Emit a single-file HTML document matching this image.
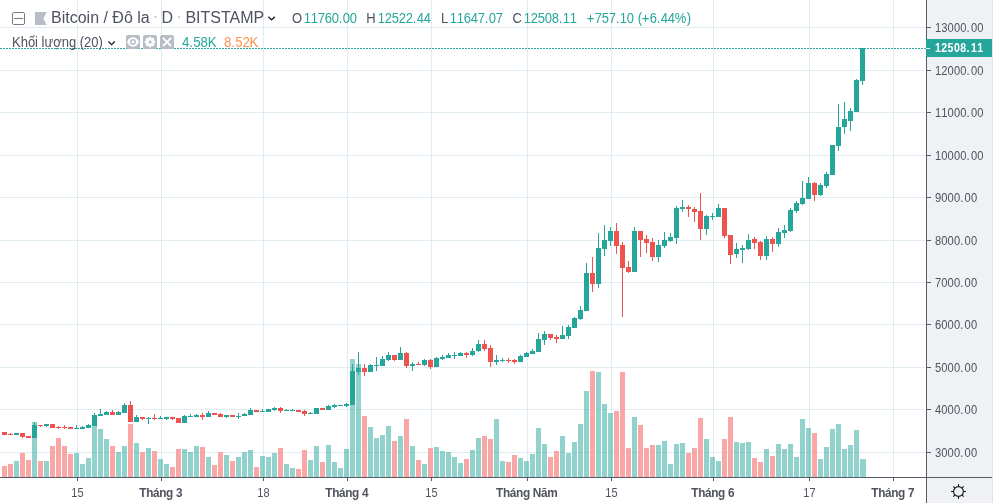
<!DOCTYPE html>
<html lang="vi"><head><meta charset="utf-8"><title>Bitcoin / Đô la · D · BITSTAMP</title>
<style>
html,body{margin:0;padding:0;background:#fff;}
body{width:993px;height:503px;overflow:hidden;position:relative;font-family:"Liberation Sans",Arial,sans-serif;}
svg{position:absolute;left:0;top:0;display:block;}
text{font-family:"Liberation Sans",Arial,sans-serif;}
</style></head><body>
<svg width="993" height="503" viewBox="0 0 993 503">
<rect x="0" y="0" width="993" height="503" fill="#fff"/>
<g shape-rendering="crispEdges" fill="#e1ecf2">
<rect x="0" y="27" width="925" height="1"/>
<rect x="0" y="70" width="925" height="1"/>
<rect x="0" y="112" width="925" height="1"/>
<rect x="0" y="155" width="925" height="1"/>
<rect x="0" y="197" width="925" height="1"/>
<rect x="0" y="240" width="925" height="1"/>
<rect x="0" y="282" width="925" height="1"/>
<rect x="0" y="324" width="925" height="1"/>
<rect x="0" y="367" width="925" height="1"/>
<rect x="0" y="409" width="925" height="1"/>
<rect x="0" y="452" width="925" height="1"/>
<rect x="77" y="0" width="1" height="477"/>
<rect x="161" y="0" width="1" height="477"/>
<rect x="263" y="0" width="1" height="477"/>
<rect x="347" y="0" width="1" height="477"/>
<rect x="431" y="0" width="1" height="477"/>
<rect x="527" y="0" width="1" height="477"/>
<rect x="611" y="0" width="1" height="477"/>
<rect x="713" y="0" width="1" height="477"/>
<rect x="809" y="0" width="1" height="477"/>
<rect x="893" y="0" width="1" height="477"/>
</g>
<g shape-rendering="crispEdges">
<rect x="2" y="466" width="5" height="11" fill="#f8a7a6"/>
<rect x="8" y="464" width="5" height="13" fill="#f8a7a6"/>
<rect x="14" y="461" width="5" height="16" fill="#26a69a" fill-opacity="0.5"/>
<rect x="20" y="453" width="5" height="24" fill="#f8a7a6"/>
<rect x="26" y="460" width="5" height="17" fill="#f8a7a6"/>
<rect x="32" y="422" width="5" height="55" fill="#26a69a" fill-opacity="0.5"/>
<rect x="38" y="461" width="5" height="16" fill="#f8a7a6"/>
<rect x="44" y="461" width="5" height="16" fill="#26a69a" fill-opacity="0.5"/>
<rect x="50" y="446" width="5" height="31" fill="#f8a7a6"/>
<rect x="56" y="438" width="5" height="39" fill="#f8a7a6"/>
<rect x="62" y="446" width="5" height="31" fill="#f8a7a6"/>
<rect x="68" y="454" width="5" height="23" fill="#f8a7a6"/>
<rect x="74" y="453" width="5" height="24" fill="#26a69a" fill-opacity="0.5"/>
<rect x="80" y="464" width="5" height="13" fill="#26a69a" fill-opacity="0.5"/>
<rect x="86" y="458" width="5" height="19" fill="#26a69a" fill-opacity="0.5"/>
<rect x="92" y="420" width="5" height="57" fill="#26a69a" fill-opacity="0.5"/>
<rect x="98" y="429" width="5" height="48" fill="#26a69a" fill-opacity="0.5"/>
<rect x="104" y="439" width="5" height="38" fill="#26a69a" fill-opacity="0.5"/>
<rect x="110" y="446" width="5" height="31" fill="#f8a7a6"/>
<rect x="116" y="452" width="5" height="25" fill="#26a69a" fill-opacity="0.5"/>
<rect x="122" y="446" width="5" height="31" fill="#26a69a" fill-opacity="0.5"/>
<rect x="128" y="424" width="5" height="53" fill="#f8a7a6"/>
<rect x="134" y="443" width="5" height="34" fill="#26a69a" fill-opacity="0.5"/>
<rect x="140" y="452" width="5" height="25" fill="#f8a7a6"/>
<rect x="146" y="448" width="5" height="29" fill="#26a69a" fill-opacity="0.5"/>
<rect x="152" y="451" width="5" height="26" fill="#f8a7a6"/>
<rect x="158" y="459" width="5" height="18" fill="#26a69a" fill-opacity="0.5"/>
<rect x="164" y="464" width="5" height="13" fill="#26a69a" fill-opacity="0.5"/>
<rect x="170" y="467" width="5" height="10" fill="#f8a7a6"/>
<rect x="176" y="449" width="5" height="28" fill="#f8a7a6"/>
<rect x="182" y="449" width="5" height="28" fill="#26a69a" fill-opacity="0.5"/>
<rect x="188" y="452" width="5" height="25" fill="#26a69a" fill-opacity="0.5"/>
<rect x="194" y="446" width="5" height="31" fill="#26a69a" fill-opacity="0.5"/>
<rect x="200" y="447" width="5" height="30" fill="#f8a7a6"/>
<rect x="206" y="457" width="5" height="20" fill="#26a69a" fill-opacity="0.5"/>
<rect x="212" y="465" width="5" height="12" fill="#f8a7a6"/>
<rect x="218" y="452" width="5" height="25" fill="#f8a7a6"/>
<rect x="224" y="455" width="5" height="22" fill="#26a69a" fill-opacity="0.5"/>
<rect x="230" y="461" width="5" height="16" fill="#f8a7a6"/>
<rect x="236" y="457" width="5" height="20" fill="#26a69a" fill-opacity="0.5"/>
<rect x="242" y="452" width="5" height="25" fill="#26a69a" fill-opacity="0.5"/>
<rect x="248" y="450" width="5" height="27" fill="#26a69a" fill-opacity="0.5"/>
<rect x="254" y="467" width="5" height="10" fill="#f8a7a6"/>
<rect x="260" y="456" width="5" height="21" fill="#26a69a" fill-opacity="0.5"/>
<rect x="266" y="457" width="5" height="20" fill="#26a69a" fill-opacity="0.5"/>
<rect x="272" y="453" width="5" height="24" fill="#26a69a" fill-opacity="0.5"/>
<rect x="278" y="448" width="5" height="29" fill="#f8a7a6"/>
<rect x="284" y="464" width="5" height="13" fill="#26a69a" fill-opacity="0.5"/>
<rect x="290" y="468" width="5" height="9" fill="#26a69a" fill-opacity="0.5"/>
<rect x="296" y="469" width="5" height="8" fill="#f8a7a6"/>
<rect x="302" y="450" width="5" height="27" fill="#f8a7a6"/>
<rect x="308" y="460" width="5" height="17" fill="#26a69a" fill-opacity="0.5"/>
<rect x="314" y="446" width="5" height="31" fill="#26a69a" fill-opacity="0.5"/>
<rect x="320" y="462" width="5" height="15" fill="#f8a7a6"/>
<rect x="326" y="445" width="5" height="32" fill="#26a69a" fill-opacity="0.5"/>
<rect x="332" y="462" width="5" height="15" fill="#26a69a" fill-opacity="0.5"/>
<rect x="338" y="468" width="5" height="9" fill="#26a69a" fill-opacity="0.5"/>
<rect x="344" y="449" width="5" height="28" fill="#26a69a" fill-opacity="0.5"/>
<rect x="350" y="359" width="5" height="118" fill="#26a69a" fill-opacity="0.5"/>
<rect x="356" y="364" width="5" height="113" fill="#26a69a" fill-opacity="0.5"/>
<rect x="362" y="416" width="5" height="61" fill="#f8a7a6"/>
<rect x="368" y="427" width="5" height="50" fill="#26a69a" fill-opacity="0.5"/>
<rect x="374" y="438" width="5" height="39" fill="#26a69a" fill-opacity="0.5"/>
<rect x="380" y="435" width="5" height="42" fill="#26a69a" fill-opacity="0.5"/>
<rect x="386" y="426" width="5" height="51" fill="#26a69a" fill-opacity="0.5"/>
<rect x="392" y="441" width="5" height="36" fill="#f8a7a6"/>
<rect x="398" y="436" width="5" height="41" fill="#26a69a" fill-opacity="0.5"/>
<rect x="404" y="419" width="5" height="58" fill="#f8a7a6"/>
<rect x="410" y="446" width="5" height="31" fill="#26a69a" fill-opacity="0.5"/>
<rect x="416" y="460" width="5" height="17" fill="#f8a7a6"/>
<rect x="422" y="464" width="5" height="13" fill="#26a69a" fill-opacity="0.5"/>
<rect x="428" y="448" width="5" height="29" fill="#f8a7a6"/>
<rect x="434" y="447" width="5" height="30" fill="#26a69a" fill-opacity="0.5"/>
<rect x="440" y="451" width="5" height="26" fill="#26a69a" fill-opacity="0.5"/>
<rect x="446" y="452" width="5" height="25" fill="#26a69a" fill-opacity="0.5"/>
<rect x="452" y="457" width="5" height="20" fill="#26a69a" fill-opacity="0.5"/>
<rect x="458" y="463" width="5" height="14" fill="#26a69a" fill-opacity="0.5"/>
<rect x="464" y="459" width="5" height="18" fill="#f8a7a6"/>
<rect x="470" y="450" width="5" height="27" fill="#26a69a" fill-opacity="0.5"/>
<rect x="476" y="438" width="5" height="39" fill="#26a69a" fill-opacity="0.5"/>
<rect x="482" y="436" width="5" height="41" fill="#f8a7a6"/>
<rect x="488" y="439" width="5" height="38" fill="#f8a7a6"/>
<rect x="494" y="419" width="5" height="58" fill="#26a69a" fill-opacity="0.5"/>
<rect x="500" y="461" width="5" height="16" fill="#26a69a" fill-opacity="0.5"/>
<rect x="506" y="462" width="5" height="15" fill="#f8a7a6"/>
<rect x="512" y="455" width="5" height="22" fill="#f8a7a6"/>
<rect x="518" y="458" width="5" height="19" fill="#26a69a" fill-opacity="0.5"/>
<rect x="524" y="461" width="5" height="16" fill="#26a69a" fill-opacity="0.5"/>
<rect x="530" y="454" width="5" height="23" fill="#26a69a" fill-opacity="0.5"/>
<rect x="536" y="428" width="5" height="49" fill="#26a69a" fill-opacity="0.5"/>
<rect x="542" y="444" width="5" height="33" fill="#26a69a" fill-opacity="0.5"/>
<rect x="548" y="457" width="5" height="20" fill="#f8a7a6"/>
<rect x="554" y="451" width="5" height="26" fill="#f8a7a6"/>
<rect x="560" y="436" width="5" height="41" fill="#26a69a" fill-opacity="0.5"/>
<rect x="566" y="453" width="5" height="24" fill="#26a69a" fill-opacity="0.5"/>
<rect x="572" y="442" width="5" height="35" fill="#26a69a" fill-opacity="0.5"/>
<rect x="578" y="424" width="5" height="53" fill="#26a69a" fill-opacity="0.5"/>
<rect x="584" y="391" width="5" height="86" fill="#26a69a" fill-opacity="0.5"/>
<rect x="590" y="371" width="5" height="106" fill="#f8a7a6"/>
<rect x="596" y="372" width="5" height="105" fill="#26a69a" fill-opacity="0.5"/>
<rect x="602" y="404" width="5" height="73" fill="#26a69a" fill-opacity="0.5"/>
<rect x="608" y="413" width="5" height="64" fill="#26a69a" fill-opacity="0.5"/>
<rect x="614" y="411" width="5" height="66" fill="#f8a7a6"/>
<rect x="620" y="372" width="5" height="105" fill="#f8a7a6"/>
<rect x="626" y="448" width="5" height="29" fill="#f8a7a6"/>
<rect x="632" y="417" width="5" height="60" fill="#26a69a" fill-opacity="0.5"/>
<rect x="638" y="425" width="5" height="52" fill="#f8a7a6"/>
<rect x="644" y="448" width="5" height="29" fill="#f8a7a6"/>
<rect x="650" y="445" width="5" height="32" fill="#f8a7a6"/>
<rect x="656" y="445" width="5" height="32" fill="#26a69a" fill-opacity="0.5"/>
<rect x="662" y="441" width="5" height="36" fill="#26a69a" fill-opacity="0.5"/>
<rect x="668" y="464" width="5" height="13" fill="#26a69a" fill-opacity="0.5"/>
<rect x="674" y="444" width="5" height="33" fill="#26a69a" fill-opacity="0.5"/>
<rect x="680" y="443" width="5" height="34" fill="#26a69a" fill-opacity="0.5"/>
<rect x="686" y="453" width="5" height="24" fill="#f8a7a6"/>
<rect x="692" y="448" width="5" height="29" fill="#f8a7a6"/>
<rect x="698" y="418" width="5" height="59" fill="#f8a7a6"/>
<rect x="704" y="439" width="5" height="38" fill="#26a69a" fill-opacity="0.5"/>
<rect x="710" y="457" width="5" height="20" fill="#26a69a" fill-opacity="0.5"/>
<rect x="716" y="461" width="5" height="16" fill="#26a69a" fill-opacity="0.5"/>
<rect x="722" y="439" width="5" height="38" fill="#f8a7a6"/>
<rect x="728" y="417" width="5" height="60" fill="#f8a7a6"/>
<rect x="734" y="442" width="5" height="35" fill="#26a69a" fill-opacity="0.5"/>
<rect x="740" y="443" width="5" height="34" fill="#26a69a" fill-opacity="0.5"/>
<rect x="746" y="442" width="5" height="35" fill="#26a69a" fill-opacity="0.5"/>
<rect x="752" y="458" width="5" height="19" fill="#f8a7a6"/>
<rect x="758" y="462" width="5" height="15" fill="#f8a7a6"/>
<rect x="764" y="449" width="5" height="28" fill="#26a69a" fill-opacity="0.5"/>
<rect x="770" y="456" width="5" height="21" fill="#f8a7a6"/>
<rect x="776" y="444" width="5" height="33" fill="#26a69a" fill-opacity="0.5"/>
<rect x="782" y="449" width="5" height="28" fill="#26a69a" fill-opacity="0.5"/>
<rect x="788" y="444" width="5" height="33" fill="#26a69a" fill-opacity="0.5"/>
<rect x="794" y="457" width="5" height="20" fill="#26a69a" fill-opacity="0.5"/>
<rect x="800" y="419" width="5" height="58" fill="#26a69a" fill-opacity="0.5"/>
<rect x="806" y="428" width="5" height="49" fill="#26a69a" fill-opacity="0.5"/>
<rect x="812" y="433" width="5" height="44" fill="#f8a7a6"/>
<rect x="818" y="459" width="5" height="18" fill="#26a69a" fill-opacity="0.5"/>
<rect x="824" y="447" width="5" height="30" fill="#26a69a" fill-opacity="0.5"/>
<rect x="830" y="429" width="5" height="48" fill="#26a69a" fill-opacity="0.5"/>
<rect x="836" y="424" width="5" height="53" fill="#26a69a" fill-opacity="0.5"/>
<rect x="842" y="449" width="5" height="28" fill="#26a69a" fill-opacity="0.5"/>
<rect x="848" y="445" width="5" height="32" fill="#26a69a" fill-opacity="0.5"/>
<rect x="854" y="430" width="5" height="47" fill="#26a69a" fill-opacity="0.5"/>
<rect x="860" y="459" width="6" height="18" fill="#26a69a" fill-opacity="0.5"/>
</g>
<g shape-rendering="crispEdges">
<rect x="2" y="432" width="5" height="3" fill="#ef5350"/>
<rect x="10" y="433" width="1" height="2" fill="#ef5350"/>
<rect x="8" y="434" width="5" height="1" fill="#ef5350"/>
<rect x="14" y="433" width="5" height="2" fill="#26a69a"/>
<rect x="22" y="433" width="1" height="5" fill="#ef5350"/>
<rect x="20" y="433" width="5" height="4" fill="#ef5350"/>
<rect x="26" y="436" width="5" height="2" fill="#ef5350"/>
<rect x="34" y="422" width="1" height="16" fill="#26a69a"/>
<rect x="32" y="425" width="5" height="13" fill="#26a69a"/>
<rect x="40" y="425" width="1" height="2" fill="#ef5350"/>
<rect x="38" y="425" width="5" height="1" fill="#ef5350"/>
<rect x="46" y="424" width="1" height="3" fill="#26a69a"/>
<rect x="44" y="424" width="5" height="2" fill="#26a69a"/>
<rect x="50" y="424" width="5" height="4" fill="#ef5350"/>
<rect x="58" y="426" width="1" height="3" fill="#ef5350"/>
<rect x="56" y="427" width="5" height="1" fill="#ef5350"/>
<rect x="64" y="425" width="1" height="4" fill="#ef5350"/>
<rect x="62" y="427" width="5" height="1" fill="#ef5350"/>
<rect x="68" y="427" width="5" height="2" fill="#ef5350"/>
<rect x="76" y="425" width="1" height="4" fill="#26a69a"/>
<rect x="74" y="428" width="5" height="1" fill="#26a69a"/>
<rect x="82" y="426" width="1" height="3" fill="#26a69a"/>
<rect x="80" y="427" width="5" height="2" fill="#26a69a"/>
<rect x="88" y="424" width="1" height="4" fill="#26a69a"/>
<rect x="86" y="425" width="5" height="3" fill="#26a69a"/>
<rect x="94" y="413" width="1" height="13" fill="#26a69a"/>
<rect x="92" y="415" width="5" height="11" fill="#26a69a"/>
<rect x="100" y="409" width="1" height="7" fill="#26a69a"/>
<rect x="98" y="414" width="5" height="2" fill="#26a69a"/>
<rect x="106" y="411" width="1" height="4" fill="#26a69a"/>
<rect x="104" y="412" width="5" height="3" fill="#26a69a"/>
<rect x="112" y="410" width="1" height="5" fill="#ef5350"/>
<rect x="110" y="412" width="5" height="3" fill="#ef5350"/>
<rect x="118" y="411" width="1" height="4" fill="#26a69a"/>
<rect x="116" y="412" width="5" height="3" fill="#26a69a"/>
<rect x="124" y="403" width="1" height="10" fill="#26a69a"/>
<rect x="122" y="405" width="5" height="8" fill="#26a69a"/>
<rect x="130" y="401" width="1" height="21" fill="#ef5350"/>
<rect x="128" y="405" width="5" height="17" fill="#ef5350"/>
<rect x="136" y="415" width="1" height="7" fill="#26a69a"/>
<rect x="134" y="417" width="5" height="5" fill="#26a69a"/>
<rect x="142" y="417" width="1" height="3" fill="#ef5350"/>
<rect x="140" y="417" width="5" height="2" fill="#ef5350"/>
<rect x="148" y="417" width="1" height="7" fill="#26a69a"/>
<rect x="146" y="418" width="5" height="1" fill="#26a69a"/>
<rect x="154" y="414" width="1" height="6" fill="#ef5350"/>
<rect x="152" y="418" width="5" height="1" fill="#ef5350"/>
<rect x="160" y="416" width="1" height="3" fill="#26a69a"/>
<rect x="158" y="418" width="5" height="1" fill="#26a69a"/>
<rect x="166" y="417" width="1" height="3" fill="#26a69a"/>
<rect x="164" y="417" width="5" height="2" fill="#26a69a"/>
<rect x="172" y="417" width="1" height="3" fill="#ef5350"/>
<rect x="170" y="417" width="5" height="2" fill="#ef5350"/>
<rect x="176" y="418" width="5" height="5" fill="#ef5350"/>
<rect x="184" y="415" width="1" height="8" fill="#26a69a"/>
<rect x="182" y="416" width="5" height="7" fill="#26a69a"/>
<rect x="190" y="414" width="1" height="3" fill="#26a69a"/>
<rect x="188" y="416" width="5" height="1" fill="#26a69a"/>
<rect x="196" y="414" width="1" height="3" fill="#26a69a"/>
<rect x="194" y="415" width="5" height="2" fill="#26a69a"/>
<rect x="202" y="413" width="1" height="7" fill="#ef5350"/>
<rect x="200" y="415" width="5" height="2" fill="#ef5350"/>
<rect x="208" y="411" width="1" height="6" fill="#26a69a"/>
<rect x="206" y="413" width="5" height="4" fill="#26a69a"/>
<rect x="212" y="413" width="5" height="2" fill="#ef5350"/>
<rect x="220" y="413" width="1" height="4" fill="#ef5350"/>
<rect x="218" y="414" width="5" height="3" fill="#ef5350"/>
<rect x="226" y="415" width="1" height="3" fill="#26a69a"/>
<rect x="224" y="415" width="5" height="2" fill="#26a69a"/>
<rect x="230" y="415" width="5" height="2" fill="#ef5350"/>
<rect x="238" y="413" width="1" height="6" fill="#26a69a"/>
<rect x="236" y="416" width="5" height="1" fill="#26a69a"/>
<rect x="244" y="413" width="1" height="3" fill="#26a69a"/>
<rect x="242" y="414" width="5" height="2" fill="#26a69a"/>
<rect x="250" y="408" width="1" height="7" fill="#26a69a"/>
<rect x="248" y="410" width="5" height="5" fill="#26a69a"/>
<rect x="254" y="410" width="5" height="2" fill="#ef5350"/>
<rect x="262" y="409" width="1" height="3" fill="#26a69a"/>
<rect x="260" y="411" width="5" height="1" fill="#26a69a"/>
<rect x="266" y="409" width="5" height="3" fill="#26a69a"/>
<rect x="274" y="407" width="1" height="4" fill="#26a69a"/>
<rect x="272" y="408" width="5" height="2" fill="#26a69a"/>
<rect x="280" y="407" width="1" height="6" fill="#ef5350"/>
<rect x="278" y="408" width="5" height="3" fill="#ef5350"/>
<rect x="286" y="409" width="1" height="2" fill="#26a69a"/>
<rect x="284" y="410" width="5" height="1" fill="#26a69a"/>
<rect x="292" y="409" width="1" height="2" fill="#26a69a"/>
<rect x="290" y="410" width="5" height="1" fill="#26a69a"/>
<rect x="296" y="410" width="5" height="2" fill="#ef5350"/>
<rect x="304" y="410" width="1" height="6" fill="#ef5350"/>
<rect x="302" y="411" width="5" height="3" fill="#ef5350"/>
<rect x="310" y="412" width="1" height="2" fill="#26a69a"/>
<rect x="308" y="413" width="5" height="1" fill="#26a69a"/>
<rect x="314" y="408" width="5" height="6" fill="#26a69a"/>
<rect x="320" y="408" width="5" height="2" fill="#ef5350"/>
<rect x="328" y="405" width="1" height="5" fill="#26a69a"/>
<rect x="326" y="406" width="5" height="4" fill="#26a69a"/>
<rect x="334" y="404" width="1" height="4" fill="#26a69a"/>
<rect x="332" y="405" width="5" height="2" fill="#26a69a"/>
<rect x="338" y="405" width="5" height="1" fill="#26a69a"/>
<rect x="346" y="403" width="1" height="4" fill="#26a69a"/>
<rect x="344" y="404" width="5" height="2" fill="#26a69a"/>
<rect x="352" y="364" width="1" height="41" fill="#26a69a"/>
<rect x="350" y="371" width="5" height="34" fill="#26a69a"/>
<rect x="358" y="352" width="1" height="23" fill="#26a69a"/>
<rect x="356" y="368" width="5" height="4" fill="#26a69a"/>
<rect x="364" y="364" width="1" height="12" fill="#ef5350"/>
<rect x="362" y="368" width="5" height="4" fill="#ef5350"/>
<rect x="370" y="364" width="1" height="8" fill="#26a69a"/>
<rect x="368" y="365" width="5" height="7" fill="#26a69a"/>
<rect x="376" y="357" width="1" height="14" fill="#26a69a"/>
<rect x="374" y="365" width="5" height="1" fill="#26a69a"/>
<rect x="382" y="356" width="1" height="10" fill="#26a69a"/>
<rect x="380" y="359" width="5" height="7" fill="#26a69a"/>
<rect x="388" y="352" width="1" height="9" fill="#26a69a"/>
<rect x="386" y="355" width="5" height="5" fill="#26a69a"/>
<rect x="394" y="355" width="1" height="6" fill="#ef5350"/>
<rect x="392" y="355" width="5" height="5" fill="#ef5350"/>
<rect x="400" y="347" width="1" height="13" fill="#26a69a"/>
<rect x="398" y="353" width="5" height="7" fill="#26a69a"/>
<rect x="406" y="352" width="1" height="16" fill="#ef5350"/>
<rect x="404" y="353" width="5" height="13" fill="#ef5350"/>
<rect x="412" y="362" width="1" height="9" fill="#26a69a"/>
<rect x="410" y="364" width="5" height="2" fill="#26a69a"/>
<rect x="418" y="362" width="1" height="3" fill="#ef5350"/>
<rect x="416" y="364" width="5" height="1" fill="#ef5350"/>
<rect x="424" y="359" width="1" height="7" fill="#26a69a"/>
<rect x="422" y="360" width="5" height="5" fill="#26a69a"/>
<rect x="430" y="359" width="1" height="10" fill="#ef5350"/>
<rect x="428" y="360" width="5" height="7" fill="#ef5350"/>
<rect x="436" y="357" width="1" height="10" fill="#26a69a"/>
<rect x="434" y="358" width="5" height="9" fill="#26a69a"/>
<rect x="442" y="355" width="1" height="5" fill="#26a69a"/>
<rect x="440" y="357" width="5" height="2" fill="#26a69a"/>
<rect x="448" y="353" width="1" height="5" fill="#26a69a"/>
<rect x="446" y="355" width="5" height="3" fill="#26a69a"/>
<rect x="454" y="352" width="1" height="7" fill="#26a69a"/>
<rect x="452" y="355" width="5" height="1" fill="#26a69a"/>
<rect x="460" y="352" width="1" height="4" fill="#26a69a"/>
<rect x="458" y="353" width="5" height="3" fill="#26a69a"/>
<rect x="466" y="352" width="1" height="6" fill="#ef5350"/>
<rect x="464" y="353" width="5" height="2" fill="#ef5350"/>
<rect x="472" y="348" width="1" height="8" fill="#26a69a"/>
<rect x="470" y="351" width="5" height="4" fill="#26a69a"/>
<rect x="478" y="340" width="1" height="12" fill="#26a69a"/>
<rect x="476" y="344" width="5" height="7" fill="#26a69a"/>
<rect x="484" y="340" width="1" height="11" fill="#ef5350"/>
<rect x="482" y="344" width="5" height="5" fill="#ef5350"/>
<rect x="490" y="345" width="1" height="22" fill="#ef5350"/>
<rect x="488" y="348" width="5" height="14" fill="#ef5350"/>
<rect x="496" y="355" width="1" height="10" fill="#26a69a"/>
<rect x="494" y="360" width="5" height="2" fill="#26a69a"/>
<rect x="502" y="358" width="1" height="4" fill="#26a69a"/>
<rect x="500" y="360" width="5" height="1" fill="#26a69a"/>
<rect x="508" y="358" width="1" height="5" fill="#ef5350"/>
<rect x="506" y="360" width="5" height="1" fill="#ef5350"/>
<rect x="514" y="359" width="1" height="5" fill="#ef5350"/>
<rect x="512" y="360" width="5" height="2" fill="#ef5350"/>
<rect x="520" y="355" width="1" height="7" fill="#26a69a"/>
<rect x="518" y="356" width="5" height="6" fill="#26a69a"/>
<rect x="526" y="352" width="1" height="5" fill="#26a69a"/>
<rect x="524" y="353" width="5" height="4" fill="#26a69a"/>
<rect x="532" y="349" width="1" height="5" fill="#26a69a"/>
<rect x="530" y="351" width="5" height="3" fill="#26a69a"/>
<rect x="538" y="333" width="1" height="19" fill="#26a69a"/>
<rect x="536" y="339" width="5" height="13" fill="#26a69a"/>
<rect x="544" y="331" width="1" height="14" fill="#26a69a"/>
<rect x="542" y="334" width="5" height="6" fill="#26a69a"/>
<rect x="550" y="334" width="1" height="6" fill="#ef5350"/>
<rect x="548" y="334" width="5" height="4" fill="#ef5350"/>
<rect x="556" y="335" width="1" height="8" fill="#ef5350"/>
<rect x="554" y="337" width="5" height="2" fill="#ef5350"/>
<rect x="562" y="326" width="1" height="13" fill="#26a69a"/>
<rect x="560" y="335" width="5" height="4" fill="#26a69a"/>
<rect x="568" y="325" width="1" height="14" fill="#26a69a"/>
<rect x="566" y="327" width="5" height="9" fill="#26a69a"/>
<rect x="574" y="317" width="1" height="11" fill="#26a69a"/>
<rect x="572" y="318" width="5" height="10" fill="#26a69a"/>
<rect x="580" y="306" width="1" height="14" fill="#26a69a"/>
<rect x="578" y="310" width="5" height="9" fill="#26a69a"/>
<rect x="586" y="263" width="1" height="48" fill="#26a69a"/>
<rect x="584" y="273" width="5" height="38" fill="#26a69a"/>
<rect x="592" y="257" width="1" height="35" fill="#ef5350"/>
<rect x="590" y="273" width="5" height="11" fill="#ef5350"/>
<rect x="598" y="233" width="1" height="55" fill="#26a69a"/>
<rect x="596" y="248" width="5" height="36" fill="#26a69a"/>
<rect x="604" y="225" width="1" height="31" fill="#26a69a"/>
<rect x="602" y="240" width="5" height="9" fill="#26a69a"/>
<rect x="610" y="227" width="1" height="19" fill="#26a69a"/>
<rect x="608" y="231" width="5" height="10" fill="#26a69a"/>
<rect x="616" y="223" width="1" height="31" fill="#ef5350"/>
<rect x="614" y="231" width="5" height="15" fill="#ef5350"/>
<rect x="622" y="242" width="1" height="75" fill="#ef5350"/>
<rect x="620" y="245" width="5" height="23" fill="#ef5350"/>
<rect x="628" y="261" width="1" height="12" fill="#ef5350"/>
<rect x="626" y="267" width="5" height="5" fill="#ef5350"/>
<rect x="634" y="227" width="1" height="45" fill="#26a69a"/>
<rect x="632" y="231" width="5" height="41" fill="#26a69a"/>
<rect x="640" y="231" width="1" height="26" fill="#ef5350"/>
<rect x="638" y="231" width="5" height="9" fill="#ef5350"/>
<rect x="646" y="235" width="1" height="18" fill="#ef5350"/>
<rect x="644" y="239" width="5" height="4" fill="#ef5350"/>
<rect x="652" y="238" width="1" height="23" fill="#ef5350"/>
<rect x="650" y="242" width="5" height="15" fill="#ef5350"/>
<rect x="658" y="240" width="1" height="22" fill="#26a69a"/>
<rect x="656" y="245" width="5" height="12" fill="#26a69a"/>
<rect x="664" y="232" width="1" height="16" fill="#26a69a"/>
<rect x="662" y="240" width="5" height="6" fill="#26a69a"/>
<rect x="670" y="233" width="1" height="9" fill="#26a69a"/>
<rect x="668" y="237" width="5" height="4" fill="#26a69a"/>
<rect x="676" y="206" width="1" height="38" fill="#26a69a"/>
<rect x="674" y="208" width="5" height="30" fill="#26a69a"/>
<rect x="682" y="200" width="1" height="12" fill="#26a69a"/>
<rect x="680" y="207" width="5" height="2" fill="#26a69a"/>
<rect x="688" y="205" width="1" height="12" fill="#ef5350"/>
<rect x="686" y="207" width="5" height="2" fill="#ef5350"/>
<rect x="694" y="207" width="1" height="15" fill="#ef5350"/>
<rect x="692" y="209" width="5" height="3" fill="#ef5350"/>
<rect x="700" y="193" width="1" height="47" fill="#ef5350"/>
<rect x="698" y="211" width="5" height="18" fill="#ef5350"/>
<rect x="706" y="215" width="1" height="20" fill="#26a69a"/>
<rect x="704" y="216" width="5" height="13" fill="#26a69a"/>
<rect x="712" y="213" width="1" height="7" fill="#26a69a"/>
<rect x="710" y="216" width="5" height="1" fill="#26a69a"/>
<rect x="718" y="204" width="1" height="13" fill="#26a69a"/>
<rect x="716" y="208" width="5" height="9" fill="#26a69a"/>
<rect x="724" y="208" width="1" height="30" fill="#ef5350"/>
<rect x="722" y="208" width="5" height="28" fill="#ef5350"/>
<rect x="730" y="235" width="1" height="29" fill="#ef5350"/>
<rect x="728" y="235" width="5" height="20" fill="#ef5350"/>
<rect x="736" y="243" width="1" height="15" fill="#26a69a"/>
<rect x="734" y="249" width="5" height="5" fill="#26a69a"/>
<rect x="742" y="245" width="1" height="18" fill="#26a69a"/>
<rect x="740" y="248" width="5" height="2" fill="#26a69a"/>
<rect x="748" y="234" width="1" height="16" fill="#26a69a"/>
<rect x="746" y="240" width="5" height="9" fill="#26a69a"/>
<rect x="754" y="237" width="1" height="12" fill="#ef5350"/>
<rect x="752" y="239" width="5" height="4" fill="#ef5350"/>
<rect x="760" y="241" width="1" height="19" fill="#ef5350"/>
<rect x="758" y="242" width="5" height="14" fill="#ef5350"/>
<rect x="766" y="236" width="1" height="24" fill="#26a69a"/>
<rect x="764" y="239" width="5" height="17" fill="#26a69a"/>
<rect x="772" y="237" width="1" height="15" fill="#ef5350"/>
<rect x="770" y="239" width="5" height="5" fill="#ef5350"/>
<rect x="778" y="228" width="1" height="19" fill="#26a69a"/>
<rect x="776" y="232" width="5" height="12" fill="#26a69a"/>
<rect x="784" y="225" width="1" height="13" fill="#26a69a"/>
<rect x="782" y="230" width="5" height="3" fill="#26a69a"/>
<rect x="790" y="208" width="1" height="24" fill="#26a69a"/>
<rect x="788" y="210" width="5" height="21" fill="#26a69a"/>
<rect x="796" y="201" width="1" height="12" fill="#26a69a"/>
<rect x="794" y="203" width="5" height="8" fill="#26a69a"/>
<rect x="802" y="181" width="1" height="24" fill="#26a69a"/>
<rect x="800" y="198" width="5" height="6" fill="#26a69a"/>
<rect x="808" y="177" width="1" height="22" fill="#26a69a"/>
<rect x="806" y="183" width="5" height="16" fill="#26a69a"/>
<rect x="814" y="182" width="1" height="19" fill="#ef5350"/>
<rect x="812" y="183" width="5" height="12" fill="#ef5350"/>
<rect x="820" y="183" width="1" height="13" fill="#26a69a"/>
<rect x="818" y="185" width="5" height="10" fill="#26a69a"/>
<rect x="826" y="172" width="1" height="16" fill="#26a69a"/>
<rect x="824" y="174" width="5" height="12" fill="#26a69a"/>
<rect x="830" y="145" width="5" height="30" fill="#26a69a"/>
<rect x="838" y="104" width="1" height="47" fill="#26a69a"/>
<rect x="836" y="127" width="5" height="19" fill="#26a69a"/>
<rect x="844" y="102" width="1" height="32" fill="#26a69a"/>
<rect x="842" y="119" width="5" height="8" fill="#26a69a"/>
<rect x="850" y="108" width="1" height="23" fill="#26a69a"/>
<rect x="848" y="111" width="5" height="10" fill="#26a69a"/>
<rect x="856" y="79" width="1" height="33" fill="#26a69a"/>
<rect x="854" y="80" width="5" height="32" fill="#26a69a"/>
<rect x="862" y="48" width="1" height="37" fill="#26a69a"/>
<rect x="860" y="48" width="5" height="33" fill="#26a69a"/>
</g>
<line x1="0" y1="48.5" x2="926" y2="48.5" stroke="#26a69a" stroke-width="1" stroke-dasharray="2 1" stroke-dashoffset="0" shape-rendering="crispEdges"/>
<rect x="12.5" y="12.5" width="12" height="12" rx="1.3" ry="1.3" fill="#fff" stroke="#787b86" stroke-width="1"/>
<rect x="14" y="18" width="9" height="1" fill="#787b86" shape-rendering="crispEdges"/>
<path d="M35 12H46.6L43.4 18.5L46.6 25H35Z" fill="#b8bcc6"/>
<path d="M268.4 16.7L271.6 19.8L274.8 16.7" fill="none" stroke="#131722" stroke-width="1.2"/>
<path d="M108.4 41.5L111.6 44.6L114.8 41.5" fill="none" stroke="#131722" stroke-width="1.2"/>
<rect x="126" y="35" width="14" height="14" rx="2" ry="2" fill="#b8bcc6"/>
<rect x="143" y="35" width="14" height="14" rx="2" ry="2" fill="#b8bcc6"/>
<rect x="160" y="35" width="14" height="14" rx="2" ry="2" fill="#b8bcc6"/>
<path d="M127 42C129.4 35.8 136.6 35.8 139 42C136.6 48.2 129.4 48.2 127 42Z" fill="#fff"/>
<circle cx="133" cy="42" r="2.2" fill="none" stroke="#b8bcc6" stroke-width="1.5"/>
<circle cx="150" cy="42" r="2.9" fill="none" stroke="#fff" stroke-width="2.6"/>
<g stroke="#fff" stroke-width="2.3">
<line x1="153.40" y1="42.00" x2="155.30" y2="42.00"/>
<line x1="152.40" y1="44.40" x2="153.75" y2="45.75"/>
<line x1="150.00" y1="45.40" x2="150.00" y2="47.30"/>
<line x1="147.60" y1="44.40" x2="146.25" y2="45.75"/>
<line x1="146.60" y1="42.00" x2="144.70" y2="42.00"/>
<line x1="147.60" y1="39.60" x2="146.25" y2="38.25"/>
<line x1="150.00" y1="38.60" x2="150.00" y2="36.70"/>
<line x1="152.40" y1="39.60" x2="153.75" y2="38.25"/>
</g>
<path d="M162.9 37.9L171.1 46.1M171.1 37.9L162.9 46.1" fill="none" stroke="#fff" stroke-width="1.9"/>
<text x="51" y="23" style="font-size:16px;fill:#4f5260;">Bitcoin / Đô la</text>
<text x="152.8" y="22.3" style="font-size:16px;fill:#b8bcc6;">·</text>
<text x="161.4" y="23" style="font-size:16px;fill:#4f5260;">D</text>
<text x="176.6" y="22.3" style="font-size:16px;fill:#b8bcc6;">·</text>
<text x="185.4" y="23" style="font-size:16px;fill:#4f5260;">BITSTAMP</text>
<text transform="translate(291.9 23) scale(0.9286 1)" style="font-size:14px;fill:#4f5260;">O</text>
<text transform="translate(303.8 23) scale(0.9286 1)" x="0.00 7.54 15.08 22.62 30.15 37.69 42.00 49.54" style="font-size:14px;fill:#26a69a;">11760.00</text>
<text transform="translate(366.3 23) scale(0.9286 1)" style="font-size:14px;fill:#4f5260;">H</text>
<text transform="translate(377.8 23) scale(0.9286 1)" x="0.00 7.54 15.08 22.62 30.15 37.69 42.00 49.54" style="font-size:14px;fill:#26a69a;">12522.44</text>
<text transform="translate(441 23) scale(0.9286 1)" style="font-size:14px;fill:#4f5260;">L</text>
<text transform="translate(449.8 23) scale(0.9286 1)" x="0.00 7.54 15.08 22.62 30.15 37.69 42.00 49.54" style="font-size:14px;fill:#26a69a;">11647.07</text>
<text transform="translate(512.5 23) scale(0.9286 1)" style="font-size:14px;fill:#4f5260;">C</text>
<text transform="translate(523.8 23) scale(0.9286 1)" x="0.00 7.54 15.08 22.62 30.15 37.69 42.00 49.54" style="font-size:14px;fill:#26a69a;">12508.11</text>
<text transform="translate(586.8 23) scale(0.9286 1)" x="0.00 8.62 16.15 23.69 31.23 35.54 43.08 50.62 54.92 59.23 67.85 75.38 79.69 87.23 94.77 107.69" style="font-size:14px;fill:#26a69a;">+757.10 (+6.44%)</text>
<text transform="translate(12 47) scale(0.9286 1)" style="font-size:14px;fill:#4f5260;">Khối lượng (20)</text>
<text transform="translate(182.1 47) scale(0.9500 1)" x="0.00 7.58 11.79 19.37 26.95" style="font-size:14px;fill:#26a69a;">4.58K</text>
<text transform="translate(224 47) scale(0.9500 1)" x="0.00 7.58 11.79 19.37 26.95" style="font-size:14px;fill:#ff9252;">8.52K</text>
<g shape-rendering="crispEdges">
<rect x="927" y="0" width="65" height="503" fill="#eff1f5"/>
<rect x="992" y="0" width="1" height="503" fill="#dfe3e6"/>
<rect x="926" y="0" width="1" height="503" fill="#555a66"/>
<rect x="0" y="477" width="992" height="1" fill="#555a66"/>
<rect x="927" y="27" width="4" height="1" fill="#555a66"/>
<rect x="927" y="70" width="4" height="1" fill="#555a66"/>
<rect x="927" y="112" width="4" height="1" fill="#555a66"/>
<rect x="927" y="155" width="4" height="1" fill="#555a66"/>
<rect x="927" y="197" width="4" height="1" fill="#555a66"/>
<rect x="927" y="240" width="4" height="1" fill="#555a66"/>
<rect x="927" y="282" width="4" height="1" fill="#555a66"/>
<rect x="927" y="324" width="4" height="1" fill="#555a66"/>
<rect x="927" y="367" width="4" height="1" fill="#555a66"/>
<rect x="927" y="409" width="4" height="1" fill="#555a66"/>
<rect x="927" y="452" width="4" height="1" fill="#555a66"/>
<rect x="77" y="478" width="1" height="3" fill="#555a66"/>
<rect x="161" y="478" width="1" height="3" fill="#555a66"/>
<rect x="263" y="478" width="1" height="3" fill="#555a66"/>
<rect x="347" y="478" width="1" height="3" fill="#555a66"/>
<rect x="431" y="478" width="1" height="3" fill="#555a66"/>
<rect x="527" y="478" width="1" height="3" fill="#555a66"/>
<rect x="611" y="478" width="1" height="3" fill="#555a66"/>
<rect x="713" y="478" width="1" height="3" fill="#555a66"/>
<rect x="809" y="478" width="1" height="3" fill="#555a66"/>
<rect x="893" y="478" width="1" height="3" fill="#555a66"/>
<rect x="926" y="39" width="66" height="18" fill="#26a69a"/>
<rect x="926" y="48" width="4" height="1" fill="#fff"/>
</g>
<text transform="translate(935 32) scale(0.9300 1)" x="0.00 6.77 13.55 20.32 27.10 33.87 38.60 45.38" style="font-size:12px;fill:#50535e;">13000.00</text>
<text transform="translate(935 75) scale(0.9300 1)" x="0.00 6.77 13.55 20.32 27.10 33.87 38.60 45.38" style="font-size:12px;fill:#50535e;">12000.00</text>
<text transform="translate(935 117) scale(0.9300 1)" x="0.00 6.77 13.55 20.32 27.10 33.87 38.60 45.38" style="font-size:12px;fill:#50535e;">11000.00</text>
<text transform="translate(935 160) scale(0.9300 1)" x="0.00 6.77 13.55 20.32 27.10 33.87 38.60 45.38" style="font-size:12px;fill:#50535e;">10000.00</text>
<text transform="translate(935 202) scale(0.9300 1)" x="0.00 6.77 13.55 20.32 27.10 31.83 38.60" style="font-size:12px;fill:#50535e;">9000.00</text>
<text transform="translate(935 245) scale(0.9300 1)" x="0.00 6.77 13.55 20.32 27.10 31.83 38.60" style="font-size:12px;fill:#50535e;">8000.00</text>
<text transform="translate(935 287) scale(0.9300 1)" x="0.00 6.77 13.55 20.32 27.10 31.83 38.60" style="font-size:12px;fill:#50535e;">7000.00</text>
<text transform="translate(935 329) scale(0.9300 1)" x="0.00 6.77 13.55 20.32 27.10 31.83 38.60" style="font-size:12px;fill:#50535e;">6000.00</text>
<text transform="translate(935 372) scale(0.9300 1)" x="0.00 6.77 13.55 20.32 27.10 31.83 38.60" style="font-size:12px;fill:#50535e;">5000.00</text>
<text transform="translate(935 414) scale(0.9300 1)" x="0.00 6.77 13.55 20.32 27.10 31.83 38.60" style="font-size:12px;fill:#50535e;">4000.00</text>
<text transform="translate(935 457) scale(0.9300 1)" x="0.00 6.77 13.55 20.32 27.10 31.83 38.60" style="font-size:12px;fill:#50535e;">3000.00</text>
<text transform="translate(935 52) scale(0.8800 1)" x="0.00 7.16 14.32 21.48 28.64 35.80 40.80 47.95" style="font-size:12px;fill:#fff;font-weight:bold;">12508.11</text>
<text transform="translate(77.6 497) scale(0.9200 1)" style="font-size:12px;fill:#50535e;text-anchor:middle;letter-spacing:0.2px;">15</text>
<text transform="translate(160.7 497) scale(0.9850 1)" style="font-size:12px;fill:#50535e;font-weight:bold;text-anchor:middle;letter-spacing:-0.35px;">Tháng 3</text>
<text transform="translate(263.6 497) scale(0.9200 1)" style="font-size:12px;fill:#50535e;text-anchor:middle;letter-spacing:0.2px;">18</text>
<text transform="translate(346.7 497) scale(0.9850 1)" style="font-size:12px;fill:#50535e;font-weight:bold;text-anchor:middle;letter-spacing:-0.35px;">Tháng 4</text>
<text transform="translate(431.6 497) scale(0.9200 1)" style="font-size:12px;fill:#50535e;text-anchor:middle;letter-spacing:0.2px;">15</text>
<text transform="translate(526.7 497) scale(0.9850 1)" style="font-size:12px;fill:#50535e;font-weight:bold;text-anchor:middle;letter-spacing:-0.35px;">Tháng Năm</text>
<text transform="translate(611.6 497) scale(0.9200 1)" style="font-size:12px;fill:#50535e;text-anchor:middle;letter-spacing:0.2px;">15</text>
<text transform="translate(712.7 497) scale(0.9850 1)" style="font-size:12px;fill:#50535e;font-weight:bold;text-anchor:middle;letter-spacing:-0.35px;">Tháng 6</text>
<text transform="translate(809.6 497) scale(0.9200 1)" style="font-size:12px;fill:#50535e;text-anchor:middle;letter-spacing:0.2px;">17</text>
<text transform="translate(892.7 497) scale(0.9850 1)" style="font-size:12px;fill:#50535e;font-weight:bold;text-anchor:middle;letter-spacing:-0.35px;">Tháng 7</text>
<g fill="none" stroke="#131722" stroke-width="1.1">
<circle cx="958.5" cy="491.5" r="4.9"/>
<line x1="963.40" y1="491.50" x2="965.90" y2="491.50"/>
<line x1="961.96" y1="494.96" x2="963.73" y2="496.73"/>
<line x1="958.50" y1="496.40" x2="958.50" y2="498.90"/>
<line x1="955.04" y1="494.96" x2="953.27" y2="496.73"/>
<line x1="953.60" y1="491.50" x2="951.10" y2="491.50"/>
<line x1="955.04" y1="488.04" x2="953.27" y2="486.27"/>
<line x1="958.50" y1="486.60" x2="958.50" y2="484.10"/>
<line x1="961.96" y1="488.04" x2="963.73" y2="486.27"/>
</g>
</svg>
</body></html>
